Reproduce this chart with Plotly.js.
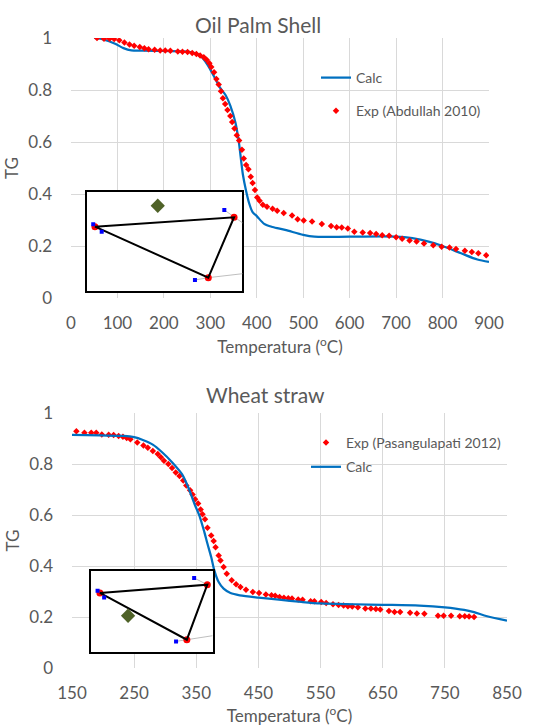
<!DOCTYPE html>
<html>
<head>
<meta charset="utf-8">
<script src="https://cdn.plot.ly/plotly-3.0.1.min.js"></script>
<style>
html,body{margin:0;padding:0;background:#fff;}
#chart{width:537px;height:726px;}
</style>
</head>
<body>
<div id="chart"></div>
<script>
// ---------- Oil Palm Shell ----------
const opsTitle = 'Oil Palm Shell';
const opsCalcName = 'Calc';
const opsExpName = 'Exp (Abdullah 2010)';
const opsCalcT = [50,71,95,113,130,155,200,252,266,280,294,308,322,333,343,354,361,370,377,384,391,400,416,434,461,500,524,600,700,735,770,800,840,875,900];
const opsCalcTG = [1.0,0.994,0.978,0.961,0.952,0.951,0.95,0.948,0.942,0.929,0.897,0.852,0.806,0.78,0.74,0.675,0.605,0.476,0.412,0.362,0.33,0.315,0.285,0.273,0.262,0.243,0.236,0.236,0.236,0.23,0.217,0.2,0.172,0.148,0.139];
const opsExpT = [56,71,83,93,104,115,126,136,148,158,167,180,192,203,214,230,240,251,261,270,278,286,292,298,302,308,313,318,323,327,332,337,343,347,352,357,362,368,372,377,382,387,391,396,401,406,413,422,434,444,458,476,488,501,519,540,560,572,583,596,610,628,644,657,670,685,700,713,729,744,760,780,798,815,829,848,863,877,894];
const opsExpTG = [1.0,0.997,0.997,0.996,0.991,0.983,0.975,0.97,0.965,0.961,0.957,0.955,0.952,0.952,0.951,0.948,0.947,0.946,0.942,0.938,0.933,0.926,0.916,0.903,0.888,0.868,0.842,0.821,0.795,0.768,0.746,0.723,0.7,0.677,0.652,0.626,0.606,0.57,0.537,0.512,0.495,0.466,0.442,0.415,0.387,0.374,0.359,0.351,0.343,0.336,0.327,0.317,0.303,0.298,0.294,0.285,0.277,0.272,0.271,0.267,0.255,0.252,0.25,0.246,0.241,0.239,0.234,0.228,0.221,0.217,0.21,0.203,0.197,0.194,0.188,0.182,0.177,0.172,0.164];
const opsXTicks = [0,100,200,300,400,500,600,700,800,900];
const opsYTicks = [0,0.2,0.4,0.6,0.8,1];
const opsYTickText = ['0','0.2','0.4','0.6','0.8','1'];
// inset (triangle diagram), unit box coordinates
const opsTriU = [0.057,0.943,0.779,0.057];
const opsTriV = [0.647,0.740,0.142,0.647];
const opsBlueU = [0.046,0.100,0.881,0.694];
const opsBlueV = [0.670,0.597,0.812,0.119];
const opsDiaU = [0.457];
const opsDiaV = [0.854];
const opsGrayU = [0.694,0.779,0.996,null,0.881,0.943,0.996];
const opsGrayV = [0.119,0.142,0.181,null,0.812,0.740,0.686];

// ---------- Wheat straw ----------
const wsTitle = 'Wheat straw';
const wsCalcName = 'Calc';
const wsExpName = 'Exp (Pasangulapati 2012)';
const wsCalcT = [150,196,233,250,264,280,295,311,327,337,347,355,363,368,374,379,386,394,405,420,450,483,519,550,604,650,709,750,781,797,818,850];
const wsCalcTG = [0.914,0.912,0.91,0.905,0.894,0.876,0.846,0.807,0.76,0.709,0.644,0.598,0.533,0.487,0.435,0.383,0.337,0.311,0.294,0.285,0.276,0.268,0.259,0.253,0.25,0.248,0.245,0.238,0.228,0.219,0.203,0.186];
const wsExpT = [157,170,181,189,198,209,217,225,232,238,244,255,265,272,280,288,293,298,305,311,317,323,329,334,340,344,348,353,357,360,364,368,374,378,381,386,389,394,399,407,414,421,430,441,451,462,471,477,484,491,498,504,514,521,534,540,551,559,570,579,587,594,601,610,622,631,639,646,660,669,678,694,705,717,739,748,760,774,782,789,797];
const wsExpTG = [0.928,0.923,0.923,0.923,0.916,0.915,0.914,0.91,0.907,0.902,0.897,0.884,0.873,0.864,0.851,0.839,0.826,0.813,0.8,0.784,0.767,0.753,0.735,0.716,0.697,0.68,0.662,0.645,0.622,0.603,0.583,0.55,0.52,0.498,0.474,0.441,0.422,0.396,0.37,0.344,0.328,0.318,0.307,0.298,0.294,0.288,0.285,0.283,0.278,0.275,0.274,0.273,0.269,0.268,0.262,0.262,0.259,0.255,0.25,0.247,0.245,0.242,0.241,0.238,0.233,0.233,0.231,0.229,0.224,0.22,0.22,0.217,0.214,0.213,0.205,0.205,0.205,0.203,0.203,0.202,0.2];
const wsXTicks = [150,250,350,450,550,650,750,850];
const wsYTicks = [0,0.2,0.4,0.6,0.8,1];
const wsYTickText = ['0','0.2','0.4','0.6','0.8','1'];
const wsTriU = [0.08,0.946,0.781,0.08];
const wsTriV = [0.723,0.823,0.160,0.723];
const wsBlueU = [0.061,0.114,0.84,0.694];
const wsBlueV = [0.751,0.670,0.904,0.140];
const wsDiaU = [0.307];
const wsDiaV = [0.449];
const wsGrayU = [0.694,0.781,0.987,null,0.84,0.946];
const wsGrayV = [0.140,0.160,0.208,null,0.904,0.823];

// ---------- styling ----------
const FONT = 'Lato, Carlito, "Open Sans", sans-serif';
const GREY = '#595959';
const GRID = '#D9D9D9';
const BLUE = '#0070C0';
const RED = '#FF0000';
const W = 537, H = 726;
const fx = p => p / W;
const fy = p => 1 - p / H;

// plot areas in pixels [left, right, top, bottom]
const topBox = [71, 489, 38, 298];
const botBox = [72, 507, 413, 668];
const topInset = [86, 243, 191, 292];
const botInset = [90, 214, 570, 653];
const PAD = 0.04;

function insetDomain(b) {
  const w = b[1] - b[0], h = b[3] - b[2];
  return {
    x: [fx(b[0] - PAD * w), fx(b[1] + PAD * w)],
    y: [fy(b[3] + PAD * h), fy(b[2] - PAD * h)]
  };
}
const tI = insetDomain(topInset), bI = insetDomain(botInset);

function mainX(domain, anchor, ticks, range) {
  return {
    domain: domain, anchor: anchor, range: range,
    tickvals: ticks, ticks: '', showgrid: true, gridcolor: GRID, gridwidth: 1,
    zeroline: false, showline: false, fixedrange: true,
    tickfont: {family: FONT, size: 17, color: GREY},
    ticklabelstandoff: 13,
    title: {text: 'Temperatura (<sup>o</sup>C)', font: {family: FONT, size: 17, color: GREY}, standoff: 9}
  };
}
function mainY(domain, anchor, ticks, text) {
  return {
    domain: domain, anchor: anchor, range: [0, 1],
    tickvals: ticks, ticktext: text, ticks: '', showgrid: true, gridcolor: GRID, gridwidth: 1,
    zeroline: false, showline: false, fixedrange: true,
    tickfont: {family: FONT, size: 17, color: GREY},
    ticklabelstandoff: 18,
    title: {text: 'TG', font: {family: FONT, size: 17, color: GREY}, standoff: 5}
  };
}
function insetAx(domain, anchor) {
  return {
    domain: domain, anchor: anchor, range: [-PAD, 1 + PAD],
    visible: false, showgrid: false, zeroline: false, fixedrange: true
  };
}

function insetTraces(xa, ya, grayU, grayV, triU, triV, blueU, blueV, diaU, diaV) {
  return [
    {x: grayU, y: grayV, xaxis: xa, yaxis: ya, mode: 'lines', line: {color: '#BFBFBF', width: 1}, showlegend: false, hoverinfo: 'skip', connectgaps: false},
    {x: triU.slice(0, 3), y: triV.slice(0, 3), xaxis: xa, yaxis: ya, mode: 'markers', marker: {color: RED, size: 7, symbol: 'circle'}, showlegend: false, hoverinfo: 'skip'},
    {x: triU, y: triV, xaxis: xa, yaxis: ya, mode: 'lines', line: {color: '#000000', width: 2}, showlegend: false, hoverinfo: 'skip'},
    {x: blueU, y: blueV, xaxis: xa, yaxis: ya, mode: 'markers', marker: {color: '#0000FF', size: 4, symbol: 'square'}, showlegend: false, hoverinfo: 'skip'},
    {x: diaU, y: diaV, xaxis: xa, yaxis: ya, mode: 'markers', marker: {color: '#4F6228', size: 11, symbol: 'diamond'}, showlegend: false, hoverinfo: 'skip'}
  ];
}

const data = [
  {x: opsCalcT, y: opsCalcTG, name: opsCalcName, xaxis: 'x', yaxis: 'y', mode: 'lines',
   line: {color: BLUE, width: 2.25, shape: 'spline', smoothing: 0.8}, legend: 'legend', legendgroup: 'a'},
  {x: opsExpT, y: opsExpTG, name: opsExpName, xaxis: 'x', yaxis: 'y', mode: 'markers',
   marker: {color: RED, size: 5, symbol: 'diamond'}, legend: 'legend', legendgroup: 'b'},
  {x: wsExpT, y: wsExpTG, name: wsExpName, xaxis: 'x2', yaxis: 'y2', mode: 'markers',
   marker: {color: RED, size: 5, symbol: 'diamond'}, legend: 'legend2', legendgroup: 'c'},
  {x: wsCalcT, y: wsCalcTG, name: wsCalcName, xaxis: 'x2', yaxis: 'y2', mode: 'lines',
   line: {color: BLUE, width: 2.25, shape: 'spline', smoothing: 0.8}, legend: 'legend2', legendgroup: 'd'}
].concat(
  insetTraces('x3', 'y3', opsGrayU, opsGrayV, opsTriU, opsTriV, opsBlueU, opsBlueV, opsDiaU, opsDiaV),
  insetTraces('x4', 'y4', wsGrayU, wsGrayV, wsTriU, wsTriV, wsBlueU, wsBlueV, wsDiaU, wsDiaV)
);

const legendStyle = {
  font: {family: FONT, size: 14, color: GREY},
  bgcolor: 'rgba(0,0,0,0)', borderwidth: 0,
  xanchor: 'left', yanchor: 'top', traceorder: 'grouped'
};

const layout = {
  width: W, height: H,
  margin: {l: 0, r: 0, t: 0, b: 0},
  paper_bgcolor: '#ffffff', plot_bgcolor: 'rgba(0,0,0,0)',
  font: {family: FONT, color: GREY},
  showlegend: true,
  xaxis: mainX([fx(topBox[0]), fx(topBox[1])], 'y', opsXTicks, [0, 900]),
  yaxis: mainY([fy(topBox[3]), fy(topBox[2])], 'x', opsYTicks, opsYTickText),
  xaxis2: mainX([fx(botBox[0]), fx(botBox[1])], 'y2', wsXTicks, [150, 850]),
  yaxis2: mainY([fy(botBox[3]), fy(botBox[2])], 'x2', wsYTicks, wsYTickText),
  xaxis3: insetAx(tI.x, 'y3'),
  yaxis3: insetAx(tI.y, 'x3'),
  xaxis4: insetAx(bI.x, 'y4'),
  yaxis4: insetAx(bI.y, 'x4'),
  legend: Object.assign({x: fx(316), y: fy(62), tracegroupgap: 12}, legendStyle),
  legend2: Object.assign({x: fx(306), y: fy(427), tracegroupgap: 3}, legendStyle),
  shapes: [
    {type: 'rect', xref: 'x3', yref: 'y3', x0: 0, x1: 1, y0: 0, y1: 1, layer: 'below',
     line: {color: '#000000', width: 2}, fillcolor: '#ffffff'},
    {type: 'rect', xref: 'x4', yref: 'y4', x0: 0, x1: 1, y0: 0, y1: 1, layer: 'below',
     line: {color: '#000000', width: 2}, fillcolor: '#ffffff'}
  ],
  annotations: [
    {text: opsTitle, xref: 'paper', yref: 'paper', x: fx(258), y: fy(24), xanchor: 'center', yanchor: 'middle',
     showarrow: false, font: {family: FONT, size: 21, color: GREY}},
    {text: wsTitle, xref: 'paper', yref: 'paper', x: fx(265), y: fy(394), xanchor: 'center', yanchor: 'middle',
     showarrow: false, font: {family: FONT, size: 21, color: GREY}}
  ]
};

Plotly.newPlot('chart', data, layout, {displayModeBar: false, staticPlot: true});
</script>
</body>
</html>
